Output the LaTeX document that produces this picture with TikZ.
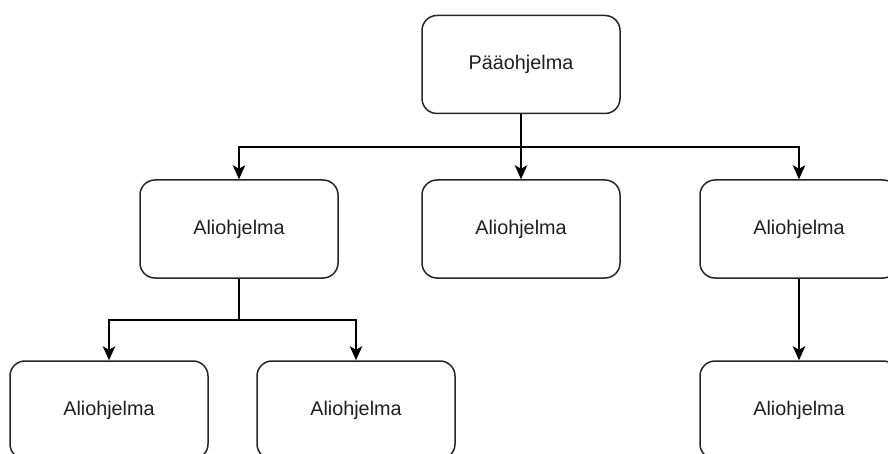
\documentclass[tikz,border=0pt]{standalone}
\usepackage{fontspec}
\setmainfont{Liberation Sans}
\usetikzlibrary{arrows.meta}
\begin{document}
\begin{tikzpicture}[x=1pt,y=-1pt,
  prog/.style={draw=black!85, line width=1.5pt, rounded corners=15pt,
    minimum width=198pt, minimum height=98pt, inner sep=0pt,
    font=\fontsize{19.8pt}{23pt}\selectfont, text=black!88},
  link/.style={draw=black, line width=1.6pt,
    -{Stealth[length=14pt,width=12.5pt,inset=3.5pt]}},
  plain/.style={draw=black, line width=1.6pt}]
  \clip (0,0) rectangle (888,454);
  \useasboundingbox (0,0) rectangle (888,454);
  \fill[white] (0,0) rectangle (888,454);

  % main program and sub-programs
  \node[prog] (main) at (521,64.5) {Pääohjelma};
  \node[prog] (subA) at (239,229) {Aliohjelma};
  \node[prog] (subB) at (521,229) {Aliohjelma};
  \node[prog] (subC) at (799,229) {Aliohjelma};
  \node[prog] (subA1) at (109,410) {Aliohjelma};
  \node[prog] (subA2) at (356,410) {Aliohjelma};
  \node[prog] (subC1) at (799,410) {Aliohjelma};

  % branch points
  \coordinate (splitTop) at (521,147);
  \coordinate (splitA) at (239,320);

  % connectors
  \draw[link] (main.south) -- (subB.north);
  \draw[link] (splitTop) -| (subA.north);
  \draw[link] (splitTop) -| (subC.north);
  \draw[plain] (subA.south) -- (splitA);
  \draw[link] (splitA) -| (subA1.north);
  \draw[link] (splitA) -| (subA2.north);
  \draw[link] (subC.south) -- (subC1.north);
\end{tikzpicture}
\end{document}
